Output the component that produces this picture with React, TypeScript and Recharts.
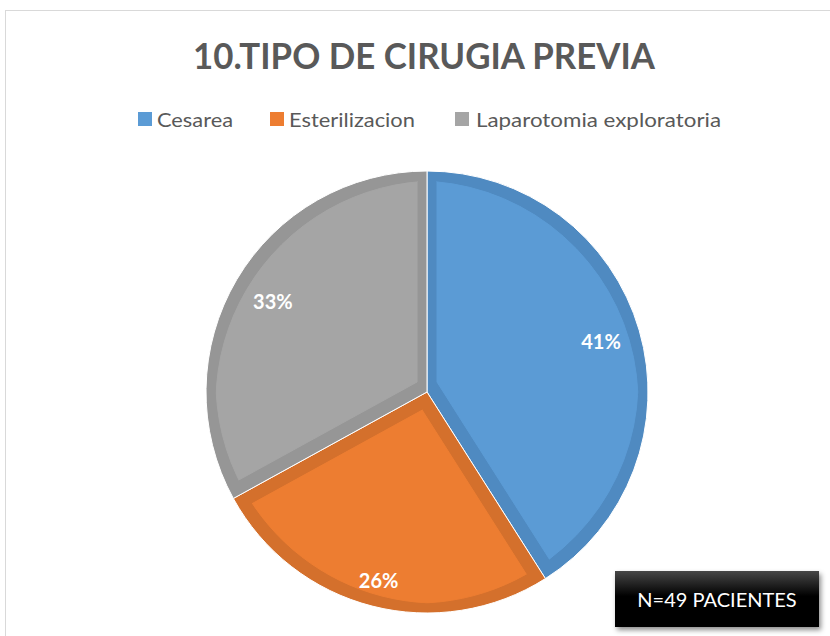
import { PieChart, Pie, Cell, Legend } from 'recharts';

const categories = ['Cesarea', 'Esterilizacion', 'Laparotomia exploratoria'];
const percents = [41, 26, 33];
const title = '10.TIPO DE CIRUGIA PREVIA';
const note = 'N=49 PACIENTES';

const fills = ['#5B9BD5', '#ED7D31', '#A5A5A5'];
const edges = ['#4F8AC1', '#D4702C', '#969696'];
const labelFactor = [0.82, 0.88, 0.81];
const FONT = 'Lato, "Open Sans", sans-serif';

const data = categories.map((name, i) => ({ name, value: percents[i] }));

// legend item geometry (square x, text x, text width)
const legendItems = [
  { sq: 138, tx: 157, w: 76 },
  { sq: 270, tx: 289, w: 126 },
  { sq: 455, tx: 476, w: 245 },
];

function LegendContent() {
  return (
    <svg width={830} height={30}>
      {categories.map((c, i) => (
        <g key={c}>
          <rect x={legendItems[i].sq} y={8} width={14} height={14} fill={fills[i]} />
          <text
            x={legendItems[i].tx}
            y={23}
            fontFamily={FONT}
            fontSize={20}
            fill="#595959"
            textLength={legendItems[i].w}
            lengthAdjust="spacingAndGlyphs"
          >
            {c}
          </text>
        </g>
      ))}
    </svg>
  );
}

const RADIAN = Math.PI / 180;
function renderLabel(props: any) {
  const { cx, cy, midAngle, outerRadius, percent, index } = props;
  const r = outerRadius * labelFactor[index];
  const x = cx + r * Math.cos(-midAngle * RADIAN);
  const y = cy + r * Math.sin(-midAngle * RADIAN);
  return (
    <text
      x={x}
      y={y}
      textAnchor="middle"
      dominantBaseline="central"
      fill="#fff"
      fontFamily={FONT}
      fontWeight={700}
      fontSize={20}
    >
      {`${Math.round(percent * 100)}%`}
    </text>
  );
}

export default function App() {
  return (
    <div style={{ position: 'absolute', left: 0, top: 0, width: 830, height: 636, background: '#fff', overflow: 'hidden' }}>
      <svg width={0} height={0} style={{ position: 'absolute' }}>
        <defs>
          {fills.map((f, i) => (
            <filter key={i} id={`inner${i}`} colorInterpolationFilters="sRGB">
              <feMorphology in="SourceAlpha" operator="erode" radius={10} result="er" />
              <feFlood floodColor={f} />
              <feComposite in2="er" operator="in" result="inner" />
              <feMerge>
                <feMergeNode in="SourceGraphic" />
                <feMergeNode in="inner" />
              </feMerge>
            </filter>
          ))}
        </defs>
      </svg>
      <div
        style={{
          position: 'absolute', left: 5, top: 10, width: 840, height: 640,
          border: '1.5px solid #D9D9D9', boxSizing: 'border-box',
        }}
      />
      <svg width={830} height={90} style={{ position: 'absolute', left: 0, top: 0 }}>
        <text
          x={193}
          y={69}
          fontFamily={FONT}
          fontWeight={700}
          fontSize={36}
          fill="#595959"
          textLength={462}
          lengthAdjust="spacingAndGlyphs"
        >
          {title}
        </text>
      </svg>
      <PieChart width={830} height={636} margin={{ top: 0, right: 0, bottom: 0, left: 0 }} style={{ position: 'absolute', left: 0, top: 0 }}>
        <Legend
          layout="horizontal"
          verticalAlign="middle"
          align="center"
          content={LegendContent}
          wrapperStyle={{ top: 104, left: 0, width: 830 }}
        />
        <Pie
          data={data}
          dataKey="value"
          nameKey="name"
          cx={427}
          cy={392}
          outerRadius={221}
          startAngle={90}
          endAngle={-270}
          stroke="#fff"
          strokeWidth={1}
          label={renderLabel}
          labelLine={false}
          isAnimationActive={false}
        >
          {data.map((_, i) => (
            <Cell key={i} fill={edges[i]} filter={`url(#inner${i})`} />
          ))}
        </Pie>
      </PieChart>
      <div
        style={{
          position: 'absolute', left: 615, top: 571, width: 204, height: 56,
          background: 'linear-gradient(#474747 0%, #000 45%, #000 100%)',
          boxShadow: '2px 3px 5px rgba(0,0,0,0.45)',
          color: '#fff', fontFamily: FONT, fontSize: 20,
          display: 'flex', alignItems: 'center', justifyContent: 'center',
        }}
      >
        {note}
      </div>
    </div>
  );
}
